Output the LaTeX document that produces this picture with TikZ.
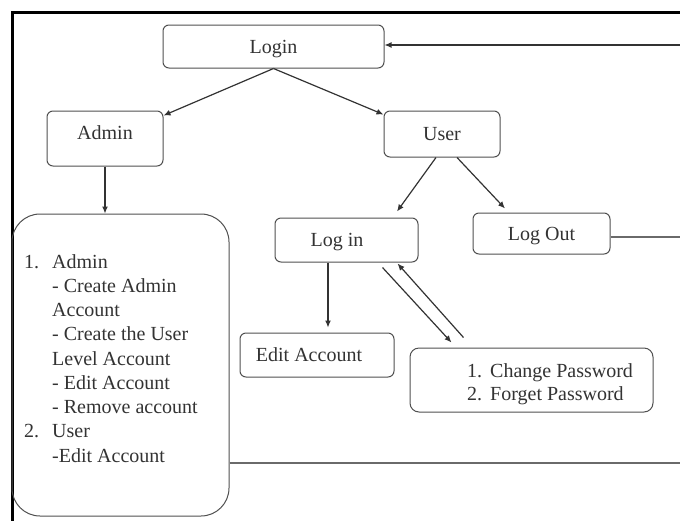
\documentclass[tikz,border=0pt]{standalone}
\usepackage{fontspec}
\setmainfont{Liberation Serif}
\usetikzlibrary{arrows.meta,calc}
\definecolor{ink}{HTML}{333333}
\definecolor{edge}{HTML}{505050}
\definecolor{lgray}{HTML}{6A6A6A}
\begin{document}
\begin{tikzpicture}[x=1pt,y=-1pt,
  font=\fontsize{20}{24}\selectfont,
  every node/.style={text=ink},
  box/.style={draw=edge, line width=1pt, rounded corners=6pt, inner sep=0pt, text height=13.2pt, text depth=0pt},
  arr/.style={draw=ink, line width=1.2pt, -{Latex[length=7pt,width=6pt]}},
  ln/.style={draw=lgray, line width=1.6pt},
  txt/.style={anchor=base west, inner sep=0pt}]
\useasboundingbox (0,0) rectangle (680,520);
\fill[white] (0,0) rectangle (680,520);
% frame
\draw[line width=3pt, black, line join=miter] (12,522) -- (12,12) -- (682,12);
% boxes
\node[box, minimum width=221pt, minimum height=43pt] (login) at (273.5,46.5) {Login};
\node[box, minimum width=116pt, minimum height=55pt, text depth=12pt] (admin) at (105,138.5) {Admin};
\node[box, minimum width=116pt, minimum height=46pt] (user) at (442,134) {User};
\node[box, minimum width=217pt, minimum height=302pt, rounded corners=28pt] (big) at (120.5,365) {};
\node[box, minimum width=143pt, minimum height=44pt] (login2) at (346.5,240) {Log in\hspace*{19pt}};
\node[box, minimum width=137pt, minimum height=41pt] (logout) at (541.5,233.5) {Log Out};
\node[box, minimum width=154pt, minimum height=44pt] (edit) at (317,355) {Edit Account\hspace*{16pt}};
\node[box, minimum width=243pt, minimum height=64pt, rounded corners=9pt] (pwd) at (531.5,380) {};
% big box text
\node[txt] (n1) at (24,268) {1.};
\node[txt] (n2) at (24,{268+24.25*7}) {2.};
\foreach \t [count=\i from 0] in {Admin,- Create Admin,Account,- Create the User,Level Account,- Edit Account,- Remove account,User,-Edit Account}
  \node[txt] (b\i) at (52,{268+24.25*\i}) {\t};
% password box text
\node[txt] (pn1) at (467,377) {1.};
\node[txt] (pt1) at (490,377) {Change Password};
\node[txt] (pn2) at (467,400) {2.};
\node[txt] (pt2) at (490,400) {Forget Password};
% free ends
\coordinate (r1) at (680,45);
\coordinate (r2) at (680,237);
\coordinate (r3) at (680,463);
% connectors
\draw[arr] (r1) -- (r1 -| login.east);
\draw[arr] (login.south) -- ([yshift=-5pt]admin.north east);
\draw[arr] (login.south) -- ([yshift=-4pt]user.north west);
\draw[arr] (admin.south) -- (admin.south |- big.north);
\draw[arr] ([xshift=-6pt]user.south) -- ([xshift=50.5pt,yshift=6pt]login2.north);
\draw[arr] ([xshift=15pt]user.south) -- ([xshift=-36.5pt,yshift=4pt]logout.north);
\draw[arr] ([xshift=-18.5pt]login2.south) -- ([xshift=-18.5pt,yshift=5pt]login2.south |- edit.north);
\draw[arr] ([xshift=-36pt,yshift=-5pt]login2.south east) -- ([xshift=42pt,yshift=5pt]pwd.north west);
\draw[arr] ([xshift=54pt,yshift=10pt]pwd.north west) -- ([xshift=-21pt,yshift=-1pt]login2.south east);
\draw[ln] (r2 -| logout.east) -- (r2);
\draw[ln] (r3 -| big.east) -- (r3);
\end{tikzpicture}
\end{document}
